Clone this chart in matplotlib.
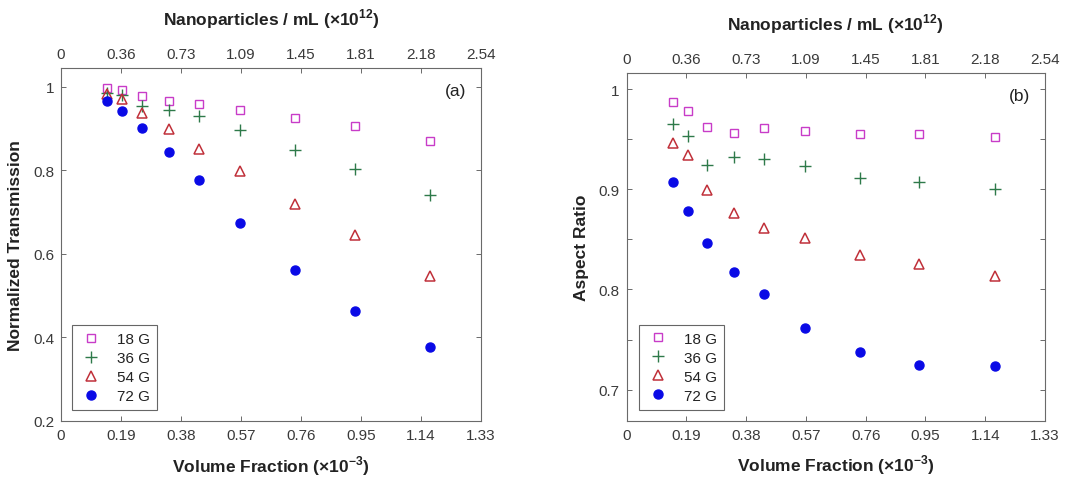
#!/usr/bin/python3

import numpy as np

# for plotting
import matplotlib
matplotlib.use('Agg')
import matplotlib.pyplot as plt
from matplotlib.ticker import MultipleLocator

# volume fraction (x10^-3), same for every field strength
vol_frac = [0.147, 0.194, 0.255, 0.341, 0.438, 0.567, 0.742, 0.930, 1.170]

# normalized transmission, panel (a)
trans_18 = [0.997, 0.993, 0.978, 0.967, 0.959, 0.945, 0.925, 0.907, 0.871]
trans_36 = [0.985, 0.981, 0.953, 0.945, 0.929, 0.896, 0.848, 0.802, 0.741]
trans_54 = [0.982, 0.970, 0.937, 0.898, 0.852, 0.799, 0.720, 0.645, 0.548]
trans_72 = [0.965, 0.941, 0.902, 0.844, 0.777, 0.674, 0.561, 0.464, 0.376]

# aspect ratio, panel (b)
ar_18 = [0.987, 0.978, 0.962, 0.956, 0.961, 0.958, 0.955, 0.955, 0.952]
ar_36 = [0.965, 0.953, 0.924, 0.932, 0.930, 0.923, 0.911, 0.907, 0.900]
ar_54 = [0.946, 0.934, 0.899, 0.876, 0.861, 0.851, 0.834, 0.825, 0.813]
ar_72 = [0.907, 0.878, 0.846, 0.817, 0.795, 0.762, 0.738, 0.725, 0.724]

labels = ['18 G', '36 G', '54 G', '72 G']

# tick labels
vf_ticks = ['0', '0.19', '0.38', '0.57', '0.76', '0.95', '1.14', '1.33']
np_ticks = ['0', '0.36', '0.73', '1.09', '1.45', '1.81', '2.18', '2.54']


def make_panel(fig, rect, series, ylabel, tag, ylim, ymajor, yminor, leg_anchor):
    """
    """
    ax = fig.add_axes(rect)
    styles = [dict(marker='s', mfc='none', mec='#c83cc8', ms=6, mew=1.0),
              dict(marker='+', color='#2e7a4a', ms=8, mew=1.0),
              dict(marker='^', mfc='none', mec='#c0303a', ms=6.5, mew=1.1),
              dict(marker='o', mfc='#0a0ae6', mec='#0a0ae6', ms=6.5)]
    for yy, lab, st in zip(series, labels, styles):
        ax.plot(vol_frac, yy, linestyle='none', label=lab, **st)

    ax.set_xlim(0., 1.33)
    ax.set_ylim(*ylim)
    ax.set_xticks(np.arange(len(vf_ticks)) * 0.19)
    ax.set_xticklabels(vf_ticks)
    ax.yaxis.set_major_locator(MultipleLocator(ymajor))
    if yminor is not None:
        ax.yaxis.set_minor_locator(MultipleLocator(yminor))
    ax.yaxis.set_major_formatter(matplotlib.ticker.FuncFormatter(lambda v, p: ('%g' % round(v, 2))))
    ax.tick_params(which='both', direction='in', length=3.5, width=0.7, colors='#6a6a6a',
                   labelcolor='#3a3a3a', labelsize=11, right=True, pad=5)
    ax.tick_params(axis='x', top=False)
    for s in ax.spines.values():
        s.set_color('#6a6a6a')
        s.set_linewidth(0.8)

    ax.set_xlabel(r'Volume Fraction ($\times$10$^{\mathbf{-3}}$)', fontsize=12.5, fontweight='bold',
                  color='#222222', labelpad=8)
    ax.set_ylabel(ylabel, fontsize=12.5, fontweight='bold', color='#222222', labelpad=7)
    ax.text(0.965, 0.935, tag, transform=ax.transAxes, ha='right', va='center',
            fontsize=12.5, color='#222222')

    # top axis: particle concentration
    ax2 = ax.twiny()
    ax2.set_xlim(0., 2.54)
    ax2.set_xticks(np.arange(len(np_ticks)) * 2.54 / 7.)
    ax2.set_xticklabels(np_ticks)
    ax2.tick_params(direction='in', length=3.5, width=0.7, colors='#6a6a6a',
                    labelcolor='#3a3a3a', labelsize=11, pad=5)
    ax2.set_xlabel(r'Nanoparticles / mL ($\times$10$^{\mathbf{12}}$)', fontsize=12.5,
                   fontweight='bold', color='#222222', labelpad=16)
    for s in ax2.spines.values():
        s.set_visible(False)

    leg = ax.legend(loc='lower left', bbox_to_anchor=leg_anchor, borderaxespad=0.,
                    fancybox=False, frameon=True, fontsize=11, labelspacing=0.33,
                    handletextpad=0.9, handlelength=1.6, borderpad=0.45)
    leg.get_frame().set_edgecolor('#404040')
    leg.get_frame().set_linewidth(0.8)
    for t in leg.get_texts():
        t.set_color('#222222')
    return ax


def plot_all():
    """
    """
    matplotlib.rcParams['font.family'] = ['Liberation Sans', 'DejaVu Sans']
    matplotlib.rcParams['mathtext.fontset'] = 'custom'
    matplotlib.rcParams['mathtext.rm'] = 'Liberation Sans:bold'
    matplotlib.rcParams['mathtext.bf'] = 'Liberation Sans:bold'

    fig = plt.figure(figsize=(10.89, 4.81), dpi=100)

    make_panel(fig, [0.056, 0.1227, 0.3857, 0.7339],
               [trans_18, trans_36, trans_54, trans_72],
               'Normalized Transmission', '(a)', (0.2, 1.045), 0.2, None, (0.026, 0.031))

    make_panel(fig, [0.5755, 0.1233, 0.3841, 0.7229],
               [ar_18, ar_36, ar_54, ar_72],
               'Aspect Ratio', '(b)', (0.669, 1.016), 0.1, 0.05, (0.029, 0.032))

    plt.savefig('out.png', format='png', dpi=100)


if __name__ == '__main__':
    plot_all()
